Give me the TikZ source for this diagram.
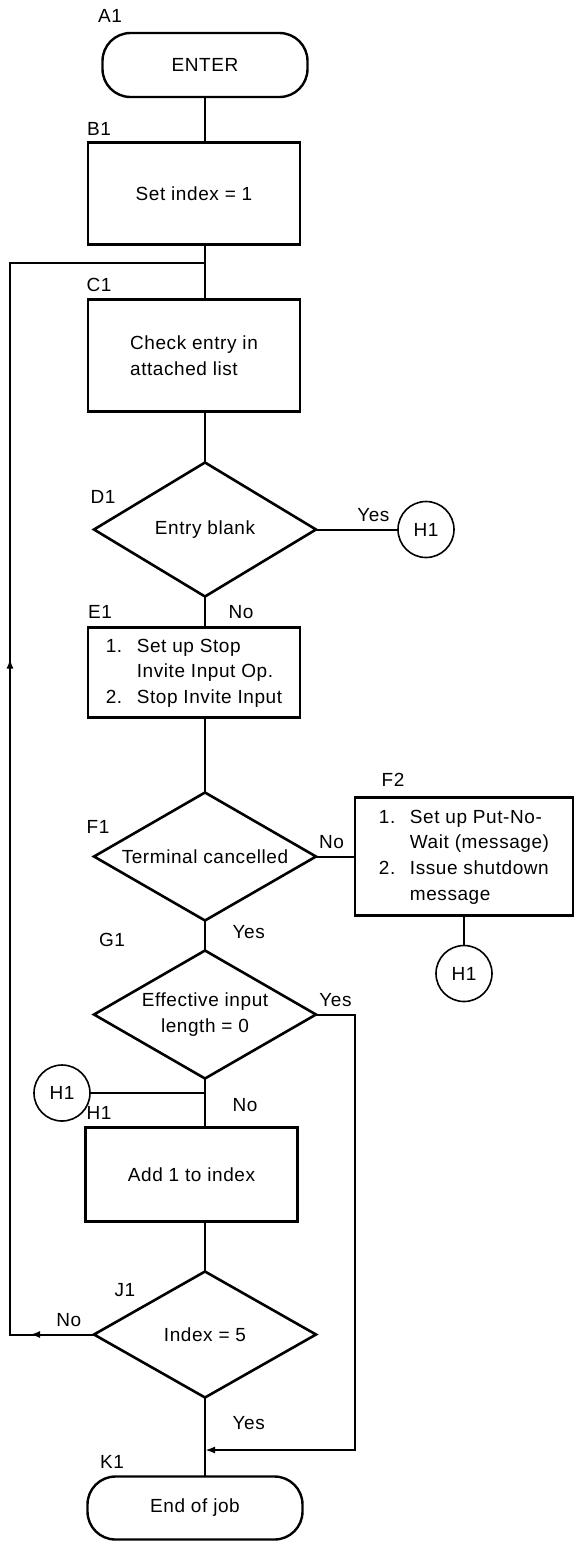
\documentclass[tikz,border=0pt]{standalone}
\usepackage{fontspec}
\setmainfont{Liberation Sans}[LetterSpace=3]
\usetikzlibrary{arrows.meta,positioning,shapes.geometric,decorations.markings}

\begin{document}
\begin{tikzpicture}[x=0.5pt, y=-0.5pt,
  font=\fontsize{9.5pt}{12.8pt}\selectfont,
  box/.style={draw, line width=1.3pt, minimum width=106pt, align=left, inner sep=0pt, outer sep=0pt},
  term/.style={draw, line width=1.2pt, rounded corners=14pt, minimum height=32pt, outer sep=0pt},
  dec/.style={draw, diamond, line width=1.3pt, minimum width=111pt, minimum height=64pt, inner sep=0pt, outer sep=0pt, aspect=1.7, align=center},
  conn/.style={draw, circle, line width=.8pt, minimum size=28pt, inner sep=0pt, outer sep=0pt},
  lbl/.style={inner sep=1pt},
  line/.style={line width=1pt},
  arr/.style={line width=1pt, -{Latex[length=5pt,width=3.5pt]}},
  back/.style={line width=1pt, postaction={decorate, decoration={markings,
      mark=at position 32pt with {\arrow{Latex[length=5pt,width=3.5pt]}},
      mark=at position 380pt with {\arrow{Latex[length=5pt,width=3.5pt]}}}}}
]
\useasboundingbox (0,0) rectangle (576,1543);

% main column
\node[term, minimum width=102.5pt] (enter) at (205,65) {ENTER};
\node[box, minimum height=51pt, below=22.75pt of enter, xshift=-5.5pt] (b1) {Set index = 1};
\node[box, minimum height=56pt, below=27.5pt of b1] (c1) {Check entry in\\attached list};
\node[dec, minimum height=67pt, below=25.5pt of c1, xshift=5.5pt] (d1) {Entry blank};
\node[box, minimum height=45pt, below=15.5pt of d1, xshift=-5.5pt] (e1) {\begin{tabular}{@{}p{15.5pt}@{}l@{}}1.&Set up Stop\\&Invite Input Op.\\2.&Stop Invite Input\end{tabular}};
\node[dec, below=37.5pt of e1, xshift=5.5pt] (f1) {Terminal cancelled};
\node[dec, below=15pt of f1] (g1) {Effective input\\length = 0};
\node[box, minimum height=47pt, below=24.5pt of g1, xshift=-6.75pt] (h1) {Add 1 to index};
\node[dec, minimum height=63pt, below=25pt of h1, xshift=6.75pt] (j1) {Index = 5};
\node[term, minimum width=107.5pt, minimum height=31.5pt, below=39.5pt of j1, xshift=-5pt] (k1) {End of job};

% side branches
\node[conn, right=41pt of d1] (cd1) {H1};
\node[box, minimum width=109pt, minimum height=59pt, right=19.5pt of f1] (f2) {\begin{tabular}{@{}p{15.5pt}@{}l@{}}1.&Set up Put-No-\\&Wait (message)\\2.&Issue shutdown\\&message\end{tabular}};
\node[conn, below=15pt of f2] (cf2) {H1};
\node[conn] (cg1) at (62,1093) {H1};

% step labels
\node[lbl] (lA1) at (110,16) {A1};
\node[lbl] (lB1) at (99,129) {B1};
\node[lbl] (lC1) at (99,285) {C1};
\node[lbl] (lD1) at (103,497) {D1};
\node[lbl] (lE1) at (100,612) {E1};
\node[lbl] (lF1) at (98,827) {F1};
\node[lbl] (lF2) at (393,780) {F2};
\node[lbl] (lG1) at (112,940) {G1};
\node[lbl] (lH1) at (99,1113) {H1};
\node[lbl] (lJ1) at (125,1290) {J1};
\node[lbl] (lK1) at (112,1462) {K1};

\coordinate (spine) at (205,0);
\coordinate (loopx) at (10,0);
\coordinate (loopt) at (205,263);
\coordinate (yesr) at (355,1450);

\draw[line] (enter.south) -- (b1.north -| spine);
\draw[line] (b1.south -| spine) -- (c1.north -| spine);
\draw[line] (c1.south -| spine) -- (d1.north);
\draw[line] (d1.south) -- node[right=8pt] {No} (e1.north -| spine);
\draw[line] (d1.east) -- node[above, pos=.7] {Yes} (cd1);
\draw[line] (e1.south -| spine) -- (f1.north);
\draw[line] (f1.east) -- node[above, pos=.4] {No} (f2.west);
\draw[line] (f2.south) -- (cf2);
\draw[line] (f1.south) -- node[right=10pt, pos=.4] {Yes} (g1.north);
\draw[line] (g1.south) -- node[right=10pt, pos=.55] {No} (h1.north -| spine);
\draw[line] (cg1) -- (cg1 -| spine);
\draw[line] (h1.south -| spine) -- (j1.north);
\draw[line] (j1.south) -- node[right=10pt, pos=.32] {Yes} (k1.north -| spine);
\draw[arr] (g1.east) -| node[above, pos=.25] {Yes} (yesr) -- (yesr -| spine);
\draw[back] (j1.west) -- node[above, pos=.3] {No} (j1.west -| loopx) |- (loopt);
\end{tikzpicture}
\end{document}
